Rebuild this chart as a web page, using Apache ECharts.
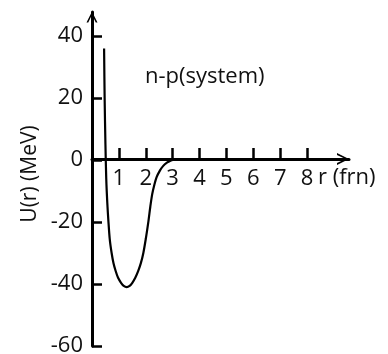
<!DOCTYPE html>
<html>
<head>
  <meta charset="utf-8">
  <script src="https://cdn.jsdelivr.net/npm/echarts@6.0.0/dist/echarts.min.js"></script>
  <style>
    html, body { margin: 0; padding: 0; background: #fff; }
    #chart { width: 388px; height: 354px; }
  </style>
</head>
<body>
  <div id="chart"></div>
  <script>
    // r in fm, U(r) in MeV
    const rVals = [0.45, 0.47, 0.5, 0.53, 0.57, 0.61, 0.66, 0.73, 0.8, 0.88, 0.97, 1.08, 1.18, 1.29, 1.4, 1.5, 1.61, 1.72, 1.82, 1.91, 2.0, 2.1, 2.17, 2.24, 2.32, 2.4, 2.52, 2.65, 2.8, 2.9, 3.0];
    const uVals = [36, 20, 5, -6, -14, -19.7, -25.5, -30, -33.3, -35.8, -38, -39.6, -40.6, -41, -40.6, -39.6, -38, -35.8, -33.2, -30, -25.5, -19.7, -15, -11, -8, -5.6, -3.5, -1.9, -0.8, -0.3, 0];
    const xTicks = [1, 2, 3, 4, 5, 6, 7, 8];
    const yTicks = [-60, -40, -20, 0, 20, 40];

    const FONT = '"Open Sans", "Noto Sans", sans-serif';
    const arrow = 'path://M0,10 L5,0 L10,10 L8.4,10 L5,2.9 L1.6,10 Z';

    let chart = echarts.init(document.getElementById('chart'));
    let option = {
      animation: false,
      grid: { left: 92, right: 39, top: 12, bottom: 8, outerBoundsMode: 'none', containLabel: false },
      xAxis: {
        type: 'value',
        position: 'bottom',
        offset: -187,
        min: 0,
        max: 9.56,
        axisLine: {
          onZero: false,
          symbol: ['none', arrow],
          symbolSize: [13, 12],
          symbolOffset: [0, -6],
          lineStyle: { color: '#000', width: 3 }
        },
        axisTick: { customValues: xTicks, inside: true, length: 11, lineStyle: { color: '#000', width: 2.5 } },
        axisLabel: { customValues: xTicks, margin: 9, color: '#111', fontSize: 22, fontFamily: FONT },
        splitLine: { show: false }
      },
      yAxis: {
        type: 'value',
        min: -60,
        max: 47.74,
        axisLine: {
          symbol: ['none', arrow],
          symbolSize: [14, 11],
          symbolOffset: [0, -5],
          lineStyle: { color: '#000', width: 3 }
        },
        axisTick: { customValues: yTicks, inside: true, length: 10, lineStyle: { color: '#000', width: 2.5 } },
        axisLabel: { customValues: yTicks, margin: 9, color: '#111', fontSize: 22, fontFamily: FONT },
        splitLine: { show: false }
      },
      graphic: [
        {
          type: 'text', x: 30, y: 174, rotation: Math.PI / 2,
          style: { text: 'U(r) (MeV)', align: 'center', verticalAlign: 'middle', fill: '#111', font: '21px ' + FONT }
        },
        {
          type: 'text', left: 318, top: 167,
          style: { text: 'r (frn)', fill: '#111', font: '22px ' + FONT }
        },
        {
          type: 'text', left: 145, top: 66,
          style: { text: 'n-p(system)', fill: '#111', font: '22px ' + FONT }
        }
      ],
      series: [{
        type: 'line',
        data: rVals.map((r, i) => [r, uVals[i]]),
        smooth: 0.3,
        showSymbol: false,
        lineStyle: { color: '#000', width: 2.2 }
      }]
    };
    chart.setOption(option);
  </script>
</body>
</html>
